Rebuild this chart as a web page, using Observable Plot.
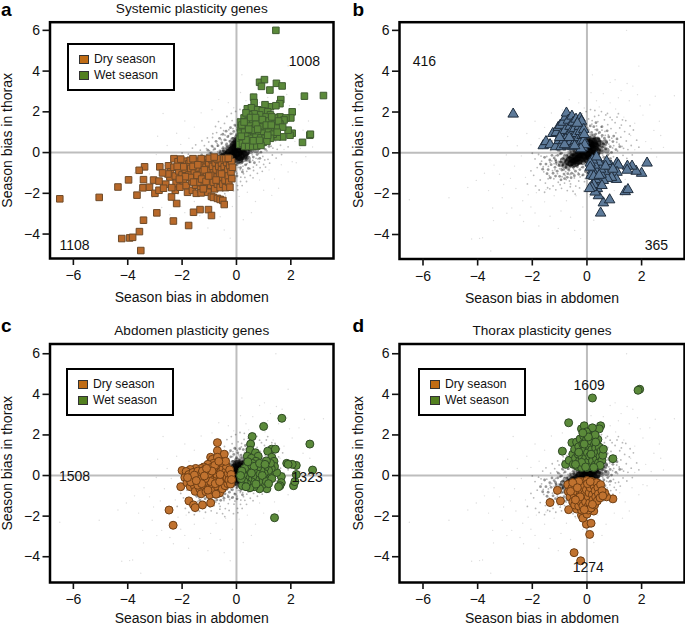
<!DOCTYPE html>
<html><head><meta charset="utf-8">
<script src="https://cdn.jsdelivr.net/npm/d3@7"></script>
<script src="https://cdn.jsdelivr.net/npm/@observablehq/plot@0.6"></script>
<style>
html,body{margin:0;padding:0;background:#fff}
#fig{position:relative;width:685px;height:625px;overflow:hidden;font-family:"Liberation Sans",sans-serif;color:#111}
#fig>svg{position:absolute}
.lg{position:absolute;box-sizing:border-box;width:108px;height:48px;border:2.5px solid #000;background:#fff;font-size:12.2px;z-index:3}
.lg i{position:absolute;left:10px;width:10px;height:9px;box-sizing:border-box;border:1px solid #333}
.lg span{position:absolute;left:25px;line-height:15px}
</style></head><body><div id="fig"></div>
<script>
const xTicks=[-6,-4,-2,0,2];
const yTicks=[-4,-2,0,2,4,6];
const titles=["Systemic plasticity genes","","Abdomen plasticity genes","Thorax plasticity genes"];
const letters=["a","b","c","d"];
const xLabel="Season bias in abdomen";
const yLabel="Season bias in thorax";
const seasons=["Dry season","Wet season"];
const aCounts=[["1008",2.5,4.47],["1108",-5.96,-4.57]];
const bCounts=[["416",-5.95,4.47],["365",2.54,-4.53]];
const cCounts=[["1508",-5.96,-0.03],["1323",2.6,-0.08]];
const dCounts=[["1609",0.08,4.43],["1274",0.05,-4.55]];

const cloudFar=[[-6.5,-2.3],[-5.05,-2.2],[-4.36,-1.7],[-4.22,-4.22],[-3.93,-4.19],[-3.82,-4.16],[-3.52,-4.81],[-3.42,-3.32],[-2.93,-2.96],[-2.32,-3.36],[-1.76,-3.58],[1.45,6.0],[1.9,4.25],[0.2,3.82],[3.2,2.8],[2.5,2.77],[1.03,3.58],[1.47,3.4],[0.85,3.45],[1.68,3.27],[2.7,0.85],[2.65,1.55],[2.8,0.27],[-2.7,1.92],[-2.9,0.8],[-3.4,-0.6],[-3.75,-1.0],[-3.05,-1.55],[-3.6,-1.85],[-3.1,-2.2],[-2.75,-2.7],[-3.45,-2.7],[-2.45,-3.05],[-2.05,-2.65],[-1.35,-3.1],[-1.05,-3.7],[-0.45,-3.8],[-0.23,-4.2],[0.25,-3.3],[0.55,-2.95],[1.3,-2.1],[1.55,-1.75],[2.2,-0.5],[2.55,-0.2],[2.45,1.1],[2.05,1.85],[2.3,2.35],[1.85,2.85],[1.25,3.05],[0.6,2.9],[0.35,2.55],[-0.3,2.45],[-0.65,2.6],[-1.3,1.95],[-1.9,1.55],[-2.2,0.95],[-2.55,0.35],[-2.95,-0.1],[-4.05,-1.35],[-3.2,-1.05],[-2.6,-1.75],[-2.35,-2.35],[-1.9,-2.95],[-1.55,-2.4],[-0.95,-2.85],[-0.6,-3.15],[-0.15,-2.65],[0.7,-2.4],[1.0,-1.85],[1.4,-1.3],[1.9,-0.95],[2.05,-0.45],[2.15,0.55],[2.35,0.2],[1.75,1.45],[1.95,2.3],[1.55,2.55],[1.15,2.7],[0.85,2.45],[0.15,2.95],[-0.1,2.2],[-0.9,2.1],[-1.55,1.25],[-1.75,0.7],[-2.05,0.4],[-2.4,-0.15],[-2.65,-0.65],[-2.25,-1.2],[-2.8,-1.25],[-1.85,-1.95],[-2.15,-2.05],[-1.2,-2.1],[-1.5,-1.8],[-0.75,-2.35],[-0.4,-2.1],[0.1,-2.15],[0.4,-1.95],[0.85,-1.35],[1.2,-0.85],[1.65,-0.6],[1.75,0.15],[1.6,0.85],[1.35,1.75],[1.05,2.15],[0.45,2.25]];
const cloudHalo=[[-1.95,-1.1],[-1.82,-0.72],[-1.71,-1.33],[-1.66,-0.41],[-1.58,-0.93],[-1.52,-1.48],[-1.47,-0.18],[-1.41,-0.66],[-1.38,-1.12],[-1.33,0.12],[-1.29,-0.39],[-1.26,-0.87],[-1.21,-1.27],[-1.18,0.34],[-1.15,-0.14],[-1.12,-0.58],[-1.08,-1.02],[-1.05,-1.44],[-1.02,0.52],[-0.99,0.08],[-0.96,-0.31],[-0.94,-0.76],[-0.91,-1.17],[-0.88,0.74],[-0.86,0.27],[-0.83,-0.09],[-0.81,-0.49],[-0.78,-0.92],[-0.76,-1.31],[-0.73,0.98],[-0.71,0.44],[-0.69,0.05],[-0.67,-0.24],[-0.65,-0.63],[-0.62,-1.06],[-0.6,-1.52],[-0.58,1.21],[-0.56,0.63],[-0.54,0.19],[-0.52,-0.13],[-0.5,-0.44],[-0.48,-0.81],[-0.46,-1.23],[-0.44,1.43],[-0.42,0.85],[-0.4,0.36],[-0.38,0.07],[-0.36,-0.27],[-0.34,-0.58],[-0.32,-0.97],[-0.3,-1.38],[-0.28,1.12],[-0.26,0.58],[-0.24,0.24],[-0.22,-0.17],[-0.2,-0.71],[-0.18,-1.11],[-0.16,1.57],[-0.14,0.93],[-0.12,0.49],[-0.1,-0.39],[-0.08,-0.88],[-0.06,-1.26],[-0.04,1.3],[-0.02,0.76],[0,-0.62],[0.02,-1.01],[0.04,-1.62],[0.06,1.66],[0.08,1.02],[0.1,0.66],[0.12,-0.51],[0.14,-0.83],[0.16,-1.21],[0.18,1.41],[0.2,0.87],[0.22,-0.43],[0.24,-0.67],[0.26,-1.04],[0.28,1.78],[0.3,1.14],[0.32,0.71],[0.34,-0.35],[0.36,-0.59],[0.38,-0.92],[0.4,1.53],[0.42,0.95],[0.44,0.57],[0.46,-0.21],[0.48,-0.48],[0.5,-0.79],[0.52,1.27],[0.54,0.78],[0.56,0.32],[0.58,-0.11],[0.6,-0.38],[0.62,-0.71],[0.64,1.62],[0.66,1.05],[0.68,0.61],[0.7,0.17],[0.72,-0.28],[0.74,-0.61],[0.76,1.38],[0.78,0.88],[0.8,0.43],[0.82,-0.04],[0.84,-0.46],[0.88,1.19],[0.91,0.72],[0.94,0.24],[0.97,-0.19],[1.0,-0.58],[1.03,1.48],[1.06,0.98],[1.09,0.52],[1.12,0.09],[1.16,-0.33],[1.2,1.22],[1.24,0.77],[1.28,0.31],[1.32,-0.12],[1.38,1.04],[1.44,0.58],[1.5,0.16],[-1.9,-0.3],[-1.77,-0.08],[-1.62,0.22],[-1.55,-1.93],[-1.44,-1.71],[-1.35,-0.47],[-1.24,-1.62],[-1.17,-0.83],[-1.1,0.19],[-1.03,-0.42],[-0.98,-1.56],[-0.9,-0.62],[-0.85,0.13],[-0.79,-1.12],[-0.74,-0.35],[-0.7,0.32],[-0.64,-1.38],[-0.59,-0.55],[-0.55,0.41],[-0.49,-1.02],[-0.45,0.1],[-0.41,-1.63],[-0.37,0.61],[-0.33,-0.41],[-0.29,0.83],[-0.25,-1.18],[-0.21,0.39],[-0.17,-0.55],[-0.13,1.18],[-0.09,-1.41],[-0.05,0.64],[0.03,1.24],[0.07,-0.73],[0.11,0.92],[0.15,-1.42],[0.19,1.58],[0.23,-0.84],[0.27,0.81],[0.31,-1.22],[0.35,1.32],[0.39,-0.54],[0.43,1.84],[0.47,0.68],[0.51,-1.12],[0.55,1.11],[0.59,0.47],[0.63,-0.88],[0.67,0.86],[0.71,0.37],[0.75,1.93],[0.79,-0.31],[0.83,0.62],[0.87,-0.74],[0.92,1.62],[0.98,0.35],[1.04,-0.36],[1.1,1.75],[1.18,0.42],[1.26,1.36],[1.34,0.22],[1.42,1.58],[1.55,0.92],[1.62,0.36],[1.7,1.12],[-2.18,-1.52],[-2.05,-0.88],[-2.0,-0.02],[-1.88,-1.62],[-1.75,-1.82],[-1.68,-0.16],[-1.6,-0.68],[-1.5,0.38],[-1.42,-1.27],[-1.36,-1.76],[-1.27,0.58],[-1.2,-0.53],[-1.14,-1.81],[-1.07,0.72],[-1.0,-0.78],[-0.93,-1.74],[-0.87,0.93],[-0.82,-1.48],[-0.77,1.28],[-0.72,-1.85],[-0.66,1.52],[-0.61,-1.66],[-0.57,0.88],[-0.51,-1.88],[-0.47,1.08],[-0.43,-2.02],[-0.35,1.77],[-0.27,-1.72],[-0.19,1.92],[-0.11,-1.88],[-0.03,2.02],[0.05,-1.83],[0.13,2.12],[0.21,-1.62],[0.29,2.08],[0.37,-1.42],[0.53,2.02],[0.61,-1.24],[0.69,1.86],[0.77,-1.02],[0.85,1.74],[0.95,-0.92],[1.07,-0.71],[1.15,1.92],[1.22,-0.52],[1.3,1.62],[1.46,-0.27],[1.58,1.32],[1.66,-0.1],[1.82,0.62],[1.9,0.28]];
const cloudInner=[[-1.42,-0.82],[-1.36,-0.35],[-1.31,-0.58],[-1.24,-1.0],[-1.2,-0.25],[-1.17,-0.71],[-1.13,-0.42],[-1.09,-0.9],[-1.07,-0.12],[-1.03,-0.62],[-1.0,-1.15],[-0.97,-0.44],[-0.93,-0.02],[-0.92,-0.84],[-0.89,-0.28],[-0.87,-0.6],[-0.84,-1.04],[-0.8,0.18],[-0.8,-0.4],[-0.77,-0.72],[-0.74,-0.12],[-0.72,-1.2],[-0.69,-0.52],[-0.68,0.34],[-0.66,-0.85],[-0.63,-0.22],[-0.61,0.08],[-0.6,-0.66],[-0.57,-0.38],[-0.56,-1.0],[-0.54,0.48],[-0.52,-0.08],[-0.5,-0.72],[-0.49,0.24],[-0.47,-0.3],[-0.45,-0.52],[-0.43,0.62],[-0.42,-0.9],[-0.39,0.02],[-0.38,-0.18],[-0.36,0.42],[-0.35,-0.68],[-0.32,0.78],[-0.31,-0.1],[-0.29,-0.36],[-0.28,0.2],[-0.26,-0.82],[-0.24,0.54],[-0.23,-0.52],[-0.21,0.92],[-0.2,0.06],[-0.18,-0.28],[-0.16,0.36],[-0.15,-0.7],[-0.13,0.7],[-0.12,0.0],[-0.1,1.04],[-0.09,-0.46],[-0.07,0.22],[-0.05,-0.92],[-0.04,0.54],[-0.02,-0.16],[0.0,0.88],[0.01,0.3],[0.03,-0.58],[0.05,1.12],[0.06,0.02],[0.08,0.44],[0.1,-0.34],[0.11,0.76],[0.13,0.18],[0.15,-0.74],[0.17,1.0],[0.18,-0.06],[0.2,0.5],[0.21,-0.48],[0.23,0.28],[0.25,1.28],[0.26,0.72],[0.28,-0.22],[0.3,0.08],[0.32,0.92],[0.33,-0.6],[0.35,0.44],[0.37,1.12],[0.38,0.2],[0.4,-0.28],[0.42,0.7],[0.44,-0.06],[0.46,1.0],[0.48,0.34],[0.5,-0.46],[0.52,0.56],[0.54,0.1],[0.56,0.86],[0.6,0.42],[0.62,-0.22],[0.64,0.72],[0.68,0.2],[0.72,0.52],[0.76,-0.1],[0.8,0.78],[0.85,0.3],[0.9,0.02],[0.95,0.55],[-1.5,-0.55],[-1.46,-1.02],[-1.55,-0.22],[-1.62,-0.8],[-1.7,-0.55],[-1.34,-1.22],[-1.28,-0.12],[-1.15,-1.14],[-1.05,0.12],[-0.95,-1.32],[-0.9,0.32],[-0.82,-1.26],[-0.75,0.55],[-0.7,-1.02],[-0.62,0.7],[-0.58,-1.22],[-0.5,0.9],[-0.46,-1.12],[-0.38,1.05],[-0.3,-1.05],[-0.22,1.22],[-0.14,-1.08],[-0.06,1.35],[0.02,-1.15],[0.12,1.32],[0.22,-0.95],[0.33,1.48],[0.44,-0.78],[0.55,1.28],[0.66,-0.5],[0.74,1.08],[0.86,-0.28],[0.98,0.82],[1.06,0.16],[1.1,0.68],[1.2,0.3],[-1.15,-0.34],[-0.98,-0.05],[-1.12,-0.5],[-0.85,-0.82],[-0.65,-0.45],[-0.55,-0.6],[-0.48,0.1],[-0.4,-0.42],[-0.33,0.28],[-0.27,-0.22],[-0.17,0.14],[-0.11,0.38],[-0.03,0.08],[0.07,0.62],[0.16,0.34],[0.27,0.5],[0.36,-0.12],[0.47,0.14],[0.57,0.28]];
const cloudDense=[[-0.95,-0.55],[-0.88,-0.38],[-0.82,-0.62],[-0.78,-0.21],[-0.73,-0.47],[-0.7,-0.68],[-0.66,-0.3],[-0.62,-0.12],[-0.6,-0.52],[-0.56,-0.35],[-0.53,-0.02],[-0.5,-0.6],[-0.48,-0.22],[-0.45,-0.42],[-0.42,0.1],[-0.4,-0.15],[-0.37,-0.5],[-0.35,-0.3],[-0.32,0.02],[-0.3,0.24],[-0.28,-0.42],[-0.26,-0.12],[-0.23,0.12],[-0.2,-0.28],[-0.18,0.34],[-0.16,-0.02],[-0.14,-0.46],[-0.12,0.2],[-0.1,-0.18],[-0.08,0.45],[-0.06,0.06],[-0.03,-0.32],[0,0.26],[0.02,-0.1],[0.05,0.55],[0.07,0.14],[0.1,-0.25],[0.12,0.38],[0.15,0.02],[0.18,0.62],[0.2,0.24],[0.23,-0.16],[0.26,0.48],[0.28,0.1],[0.32,0.36],[0.35,-0.08],[0.38,0.66],[0.42,0.22],[0.46,0.48],[0.52,0.08],[0.58,0.36],[0.66,0.52],[0.72,0.12],[0.3,-0.32],[0.42,-0.3],[0.14,-0.44],[-0.12,0.62],[0.02,0.74],[0.22,0.8]];
const cloudCore=[[-0.62,-0.42],[-0.5,-0.28],[-0.44,-0.46],[-0.36,-0.18],[-0.3,-0.34],[-0.24,-0.04],[-0.18,-0.22],[-0.12,0.12],[-0.06,-0.1],[0,0.24],[0.05,0.04],[0.1,0.4],[0.16,0.2],[0.22,0.48],[0.28,0.3],[0.34,0.52],[0.12,-0.18],[0.24,-0.12],[0.32,0.06],[-0.06,0.36],[0.04,0.52],[0.06,-0.3]];

const aDry=[[-6.5,-2.27],[-5.05,-2.2],[-4.36,-1.69],[-3.97,-1.34],[-4.22,-4.22],[-3.93,-4.19],[-3.82,-4.16],[-3.57,-3.88],[-3.52,-4.81],[-3.42,-3.32],[-2.93,-2.96],[-2.32,-3.36],[-1.76,-3.58],[-1.58,-2.93],[-1.34,-2.8],[-1.03,-2.8],[-0.92,-3.09],[-2.2,-2.5],[-2.39,-2.18],[-3.66,-2.09],[-3.38,-0.7],[-3.58,-0.87],[-3.42,-1.33],[-3.44,-1.73],[-3.2,-1.7],[-3.05,-1.35],[-3.0,-2.0],[-2.85,-1.4],[-2.82,-0.7],[-2.85,-1.85],[-2.6,-1.55],[-2.68,-1.75],[-2.5,-0.65],[-2.45,-1.2],[-2.42,-0.95],[-2.3,-0.3],[-2.3,-0.72],[-2.25,-1.15],[-2.22,-1.5],[-2.25,-1.85],[-2.15,-0.45],[-2.12,-0.9],[-2.08,-1.7],[-2.0,-0.6],[-2.0,-1.1],[-1.95,-1.38],[-1.9,-0.42],[-1.88,-0.82],[-1.85,-1.62],[-1.8,-1.95],[-1.75,-0.55],[-1.75,-1.1],[-1.7,-0.38],[-1.68,-0.78],[-1.65,-1.4],[-1.62,-1.85],[-1.55,-0.55],[-1.55,-1.0],[-1.52,-1.25],[-1.5,-1.6],[-1.48,-2.0],[-1.42,-0.42],[-1.4,-0.75],[-1.38,-1.1],[-1.35,-1.45],[-1.32,-1.8],[-1.3,-1.98],[-1.25,-0.55],[-1.25,-0.95],[-1.2,-1.25],[-1.18,-1.55],[-1.15,-0.35],[-1.12,-0.72],[-1.1,-1.05],[-1.08,-1.7],[-1.05,-1.95],[-1.02,-0.5],[-1.0,-0.88],[-0.98,-1.3],[-0.95,-1.6],[-0.92,-2.15],[-0.9,-0.35],[-0.88,-0.68],[-0.85,-1.0],[-0.85,-1.45],[-0.85,-2.2],[-0.8,-1.78],[-0.78,-0.5],[-0.75,-0.85],[-0.72,-1.2],[-0.7,-1.55],[-0.7,-2.25],[-0.68,-0.35],[-0.65,-0.68],[-0.62,-1.02],[-0.6,-1.4],[-0.6,-1.72],[-0.6,-2.3],[-0.55,-0.5],[-0.55,-0.85],[-0.52,-1.2],[-0.5,-2.35],[-0.5,-1.55],[-0.48,-0.3],[-0.45,-2.55],[-0.45,-0.7],[-0.42,-1.0],[-0.42,-1.35],[-0.4,-1.72],[-0.36,-0.48],[-0.32,-0.85],[-0.3,-1.15],[-0.28,-1.45],[-0.26,-0.32],[-0.25,-0.65],[-0.24,-1.7],[-0.2,-0.95],[-0.18,-0.45],[-0.17,-1.28],[-0.15,-0.72],[-2.38,-1.72],[-2.52,-1.05],[-2.72,-1.0],[-2.05,-0.32],[-1.6,-0.3],[-1.3,-0.3],[-1.0,-0.28],[-0.72,-0.3],[-0.4,-0.3],[-1.45,-1.12],[-1.28,-1.3],[-1.12,-1.42],[-0.95,-1.12],[-1.7,-1.22],[-1.88,-1.18],[-2.1,-1.3],[-1.6,-0.68],[-1.42,-0.6],[-1.18,-0.85],[-0.82,-0.22],[-0.55,-1.05],[-0.75,-1.35],[-1.02,-1.15],[-1.22,-1.78],[-1.58,-1.45],[-1.95,-0.7],[-2.18,-0.68],[-0.3,-0.28]];
const aWet=[[1.45,6.0],[3.2,2.8],[2.5,2.77],[0.85,3.45],[1.03,3.58],[1.47,3.4],[1.68,3.27],[0.92,3.25],[1.23,3.07],[0.63,2.72],[1.63,2.6],[1.6,2.4],[2.05,2.0],[2.0,1.7],[2.7,0.85],[2.72,0.9],[2.43,0.5],[2.05,0.95],[1.97,0.85],[1.9,1.1],[1.7,0.77],[1.5,0.77],[1.25,2.25],[1.05,2.35],[0.65,2.45],[0.4,2.15],[0.55,2.2],[0.78,2.1],[0.95,2.05],[1.15,2.0],[1.45,2.3],[1.6,1.75],[1.82,1.7],[1.75,1.6],[1.4,1.7],[1.25,1.85],[1.05,1.75],[0.85,1.85],[0.65,1.9],[0.45,1.85],[0.28,1.7],[0.35,1.95],[0.15,1.5],[0.42,1.55],[0.6,1.6],[0.8,1.55],[1.0,1.45],[1.2,1.55],[1.4,1.4],[1.6,1.4],[0.15,1.2],[0.32,1.25],[0.5,1.3],[0.68,1.2],[0.88,1.25],[1.1,1.2],[1.3,1.15],[1.5,1.2],[0.15,0.95],[0.3,1.0],[0.48,1.0],[0.65,0.95],[0.82,1.0],[1.0,0.95],[1.18,1.0],[1.35,0.9],[0.12,0.65],[0.25,0.72],[0.4,0.8],[0.55,0.7],[0.72,0.75],[0.9,0.72],[1.05,0.7],[1.25,0.7],[0.12,0.4],[0.22,0.45],[0.38,0.5],[0.52,0.42],[0.68,0.48],[0.82,0.45],[0.98,0.5],[1.12,0.55],[0.3,0.3],[0.45,0.3],[0.6,0.3],[0.75,0.32],[0.9,0.35],[0.2,1.35],[0.55,1.1],[0.72,1.4],[0.95,1.62],[0.35,0.62],[0.62,0.58],[0.85,0.6],[1.15,0.85],[0.52,1.72],[0.7,1.72],[1.1,1.35],[0.28,1.5],[0.45,1.15],[0.78,1.15],[1.28,1.35],[0.18,0.8],[1.3,1.75],[1.55,1.55],[1.7,1.25],[1.5,1.0]];
const bUp=[[-2.7,1.9],[-1.6,0.35],[-1.5,0.55],[-1.35,0.4],[-1.25,0.95],[-1.15,0.3],[-1.12,1.0],[-1.05,1.25],[-1.02,0.6],[-0.95,0.3],[-0.95,0.9],[-0.98,1.35],[-0.88,1.5],[-0.85,0.62],[-0.8,1.1],[-0.78,1.75],[-0.75,1.95],[-0.72,0.35],[-0.7,0.85],[-0.68,1.6],[-0.62,1.3],[-0.6,0.55],[-0.58,1.05],[-0.55,1.8],[-0.52,0.3],[-0.5,0.8],[-0.5,1.5],[-0.45,1.2],[-0.42,0.6],[-0.4,1.65],[-0.38,0.95],[-0.32,0.35],[-0.3,0.75],[-0.28,1.3],[-0.25,1.7],[-0.25,1.05],[-0.22,0.55],[-0.2,1.55],[-0.18,0.85],[-0.15,0.28],[-0.12,0.6],[-0.12,1.15],[-0.1,0.9],[-0.08,0.4],[-0.22,0.2],[-0.45,0.35],[-0.82,0.4],[-1.0,0.75],[-0.65,0.75],[-0.35,1.45]];
const bDown=[[0.5,-2.95],[0.6,-2.45],[0.83,-2.3],[1.4,-1.9],[1.5,-1.8],[2.2,-0.5],[2.0,-1.0],[1.8,-0.9],[1.65,-0.65],[1.48,-0.65],[1.47,-0.85],[1.1,-0.5],[1.15,-0.6],[1.1,-0.95],[1.08,-1.3],[0.9,-1.2],[0.88,-0.65],[0.75,-1.25],[0.72,-0.42],[0.65,-0.9],[0.6,-1.35],[0.55,-0.65],[0.52,-1.05],[0.5,-0.8],[0.45,-1.45],[0.42,-0.45],[0.42,-2.1],[0.38,-1.75],[0.35,-0.9],[0.32,-1.3],[0.3,-1.92],[0.28,-0.6],[0.25,-1.55],[0.2,-0.35],[0.2,-0.85],[0.18,-1.7],[0.15,-1.1],[0.12,-0.5],[0.12,-0.7],[0.1,-1.75],[0.25,-1.15],[0.45,-1.1],[0.68,-0.65],[0.95,-0.8],[0.35,-0.2],[0.55,-1.6]];
const cDry=[[-2.48,-1.7],[-2.33,-2.45],[-1.75,-1.25],[-1.58,-1.45],[-1.52,-1.58],[-1.25,-1.45],[-0.95,-1.35],[-2.05,-0.55],[-2.0,0.25],[-0.7,1.62],[-0.7,1.22],[-0.45,1.05],[-0.95,0.9],[-0.88,0.8],[-0.7,0.9],[-0.6,0.6],[-0.85,0.6],[-1.05,0.55],[-1.2,0.42],[-1.3,0.35],[-1.5,0.35],[-1.7,0.3],[-1.85,0.2],[-1.9,-0.1],[-1.82,-0.35],[-1.75,0.05],[-1.7,-0.55],[-1.62,-0.2],[-1.6,0.15],[-1.55,-0.5],[-1.52,-0.78],[-1.45,-0.05],[-1.42,0.22],[-1.4,-0.35],[-1.35,-0.65],[-1.3,-0.9],[-1.28,0.1],[-1.22,-0.2],[-1.2,-0.5],[-1.15,0.3],[-1.12,-0.8],[-1.08,-0.02],[-1.05,-0.35],[-1.02,0.22],[-1.0,-0.62],[-0.98,-0.95],[-0.92,0.4],[-0.9,-0.15],[-0.88,-0.48],[-0.85,0.15],[-0.82,-0.75],[-0.78,0.3],[-0.75,-0.25],[-0.72,0.05],[-0.7,-0.55],[-0.65,0.42],[-0.62,-0.85],[-0.6,-0.1],[-0.58,0.18],[-0.55,-0.4],[-0.52,-0.65],[-0.5,0.32],[-0.48,0.02],[-0.45,-0.25],[-0.42,-0.5],[-0.4,0.18],[-0.38,0.48],[-0.35,-0.12],[-0.32,-0.4],[-0.3,0.1],[-0.28,-0.22],[-0.25,0.28],[-0.22,-0.42],[-0.2,0.05],[-0.18,-0.2],[-0.95,-0.3],[-1.15,-0.15],[-1.35,-0.2],[-1.55,0.02],[-1.68,-0.32],[-1.25,0.22],[-1.05,-0.72],[-0.8,0.5],[-0.55,0.65],[-0.4,0.7],[-0.65,0.7],[-0.78,-0.4],[-1.42,-0.48],[-1.0,0.1],[-0.62,-0.3],[-1.28,-0.4],[-1.48,-0.25],[-1.8,-0.1],[-0.9,0.22],[-1.1,0.35],[-0.75,-0.92],[-0.6,0.05],[-1.18,-0.02]];
const cWet=[[1.67,2.82],[1.0,2.42],[0.58,1.92],[0.52,1.55],[2.7,1.55],[1.4,-2.08],[2.8,0.27],[2.2,0.5],[2.05,0.55],[1.85,0.6],[1.9,0.55],[2.1,-0.5],[2.15,-0.3],[2.2,0.05],[1.3,1.3],[1.43,1.3],[1.15,1.2],[0.5,1.25],[0.7,1.12],[0.8,0.95],[1.3,0.9],[1.38,0.7],[0.4,0.95],[0.55,0.85],[1.65,-0.05],[1.65,-0.35],[1.6,-0.5],[1.55,-0.55],[1.48,0.15],[1.4,0.45],[1.28,0.35],[1.25,0.6],[1.22,-0.0],[1.18,0.25],[1.12,-0.65],[1.1,0.72],[1.05,0.4],[1.02,0.1],[1.0,-0.2],[0.95,-0.45],[0.92,0.55],[0.9,0.25],[0.85,-0.1],[0.85,-0.65],[0.82,-0.3],[0.78,0.4],[0.75,0.08],[0.72,0.7],[0.7,-0.22],[0.65,-0.55],[0.62,0.25],[0.6,-0.05],[0.58,0.6],[0.55,-0.3],[0.5,0.3],[0.5,-0.6],[0.45,0.05],[0.42,-0.18],[0.4,0.5],[0.38,-0.4],[0.35,0.22],[0.32,-0.08],[0.3,0.35],[0.28,-0.3],[0.25,0.05],[0.22,-0.5],[0.2,0.22],[0.18,-0.15],[0.15,0.0],[0.35,-0.55],[0.65,0.45],[0.95,0.0],[1.1,-0.3],[1.3,-0.15],[0.85,0.6],[0.55,0.12],[0.72,-0.42],[0.42,0.68],[1.05,0.55],[1.18,-0.4]];
const dDry=[[-1.35,-1.33],[-1.08,-0.73],[-0.97,-1.25],[-0.67,-1.68],[0.95,-1.15],[0.72,-1.05],[0.65,-0.85],[-0.47,-3.8],[-0.23,-4.2],[0.1,-2.9],[-0.02,-2.4],[0.15,-2.35],[-0.2,-1.95],[-0.15,-2.1],[-0.38,-1.65],[0.0,-1.9],[0.25,-1.75],[0.05,-1.7],[-0.2,-1.7],[-0.7,-0.45],[-0.68,-0.8],[-0.62,-1.05],[-0.55,-0.62],[-0.52,-1.3],[-0.48,-0.95],[-0.45,-1.45],[-0.4,-0.4],[-0.38,-0.78],[-0.35,-1.15],[-0.3,-1.5],[-0.28,-0.55],[-0.25,-0.95],[-0.22,-1.3],[-0.2,-0.3],[-0.18,-0.75],[-0.15,-1.5],[-0.12,-1.1],[-0.1,-0.5],[-0.08,-0.9],[-0.05,-1.3],[-0.02,-0.7],[0,-0.25],[0.02,-1.55],[0.05,-0.45],[0.05,-1.05],[0.08,-0.85],[0.1,-1.35],[0.12,-0.6],[0.15,-1.6],[0.18,-0.3],[0.2,-0.95],[0.22,-1.2],[0.25,-0.5],[0.28,-1.45],[0.3,-0.75],[0.32,-1.05],[0.35,-0.35],[0.38,-1.25],[0.4,-0.6],[0.42,-0.9],[0.48,-1.1],[0.5,-0.45],[0.55,-0.75],[0.58,-1.0],[-0.3,-0.3],[-0.52,-0.35],[-0.6,-0.78],[0.02,-0.4],[-0.25,-1.05],[0.2,-1.42],[-0.42,-1.2],[-0.1,-1.68],[0.12,-0.3],[-0.35,-0.6]];
const dWet=[[1.93,4.25],[1.87,4.2],[0.2,3.82],[-0.67,2.6],[-0.9,1.2],[-0.78,0.55],[0.95,0.83],[0.5,2.45],[0.45,2.3],[0.2,2.35],[-0.2,2.3],[-0.1,2.45],[-0.65,0.75],[-0.55,1.62],[-0.52,1.05],[-0.5,0.55],[-0.45,1.3],[-0.42,0.85],[-0.38,1.65],[-0.35,0.45],[-0.32,1.05],[-0.3,1.42],[-0.28,0.7],[-0.25,1.8],[-0.22,1.15],[-0.2,0.4],[-0.18,0.92],[-0.15,1.55],[-0.12,1.95],[-0.1,0.62],[-0.08,1.28],[-0.05,0.85],[-0.02,1.75],[0,0.4],[0.02,1.12],[0.05,0.68],[0.05,1.48],[0.08,2.0],[0.1,0.95],[0.12,1.72],[0.15,0.45],[0.18,1.28],[0.2,0.72],[0.22,1.95],[0.25,1.05],[0.28,1.55],[0.3,0.52],[0.32,1.35],[0.35,0.82],[0.38,1.1],[0.4,1.78],[0.42,0.62],[0.45,1.4],[0.48,0.95],[0.52,1.2],[0.55,0.75],[0.58,1.0],[0.6,1.3],[0.3,2.0],[-0.02,2.15],[-0.3,1.15],[-0.1,1.55],[0.15,1.05],[-0.2,0.65],[0.32,1.65],[0.05,1.9],[-0.15,2.1],[-0.42,0.55],[0.48,0.5],[-0.05,0.42],[0.25,0.4]];

const dry="#b8692a", wet="#5b8a3a", blue="#5d7a99";
const spec=[
 {left:0,top:0,w:342,h:310,ml:49.5,mr:9,mt:21.7,mb:52,yd:[-5.2,6.4],sets:[[aDry,dry,"#6e4a28"],[aWet,wet,"#3f5c30"]],sym:"square",r:3.7,counts:aCounts,legend:[67,43]},
 {left:345,top:0,w:340,h:310,ml:54,mr:1,mt:21.7,mb:51.5,yd:[-5.2,6.4],sets:[[bUp,blue,"#1f2d3d"],[bDown,blue,"#1f2d3d"]],sym:"triangle",r:3.9,counts:bCounts},
 {left:0,top:310,w:342,h:315,ml:49.5,mr:9,mt:33.5,mb:43,yd:[-5.27,6.48],sets:[[cDry,"#c0722f","#6e3e14"],[cWet,wet,"#2f4a25"]],sym:"circle",r:4,counts:cCounts,legend:[66,368]},
 {left:345,top:310,w:340,h:315,ml:54,mr:1,mt:33.5,mb:43,yd:[-5.27,6.48],sets:[[dDry,"#c0722f","#6e3e14"],[dWet,wet,"#2f4a25"]],sym:"circle",r:4,counts:dCounts,legend:[418,368]}
];
const fig=document.getElementById("fig");
const X=d=>d[0],Y=d=>d[1];
spec.forEach((s,i)=>{
 const marks=[
  Plot.ruleX([0],{stroke:"#bdbdbd",strokeWidth:2}),
  Plot.ruleY([0],{stroke:"#bdbdbd",strokeWidth:2}),
  Plot.dot(cloudFar,{x:X,y:Y,r:0.7,fill:"#000",fillOpacity:0.14}),
  Plot.dot(cloudHalo,{x:X,y:Y,r:0.9,fill:"#000",fillOpacity:0.28}),
  Plot.dot(cloudInner,{x:X,y:Y,r:1.4,fill:"#000",fillOpacity:0.4}),
  Plot.dot(cloudDense,{x:X,y:Y,r:3,fill:"#000",fillOpacity:0.38}),
  Plot.dot(cloudCore,{x:X,y:Y,r:5,fill:"#000",fillOpacity:0.6}),
  ...s.sets.map(([data,fill,stroke])=>Plot.dot(data,{x:X,y:Y,symbol:s.sym,r:s.r,fill,stroke,strokeWidth:1})),
  Plot.text(s.counts,{x:d=>d[1],y:d=>d[2],text:d=>d[0],fontSize:14,fill:"#111"}),
  Plot.frame({stroke:"#000",strokeWidth:2.5}),
  Plot.axisX({ticks:xTicks,tickSize:7,tickPadding:5,strokeWidth:1.6,fontSize:14,fill:"#111",label:xLabel,labelAnchor:"center",labelArrow:"none",labelOffset:i<2?43.5:40.5,fontWeight:"normal"}),
  Plot.axisY({ticks:yTicks,tickSize:7,tickPadding:3,strokeWidth:1.6,fontSize:14,fill:"#111",label:yLabel,labelAnchor:"center",labelArrow:"none",labelOffset:i%2?46:48}),
  Plot.text([letters[i]],{frameAnchor:"top-left",dx:i%2?-47:-49,dy:i<2?-19.5:-26,text:d=>d,fontSize:19,fontWeight:"bold",fill:"#000",textAnchor:"start"})
 ];
 if(titles[i]) marks.push(Plot.text([titles[i]],{frameAnchor:"top",dy:-19,text:d=>d,fontSize:13.6,fill:"#111"}));
 const svg=Plot.plot({width:s.w,height:s.h,marginLeft:s.ml,marginRight:s.mr,marginTop:s.mt,marginBottom:s.mb,
  style:{fontFamily:"'Liberation Sans',sans-serif",fontSize:"13.7px",background:"transparent",overflow:"visible"},
  x:{domain:[-6.86,3.57]},y:{domain:s.yd},symbol:{type:"identity"},marks});
 svg.style.left=s.left+"px";svg.style.top=s.top+"px";
 fig.appendChild(svg);
 if(s.legend){
  const b=document.createElement("div");b.className="lg";b.style.left=s.legend[0]+"px";b.style.top=s.legend[1]+"px";
  seasons.forEach((t,k)=>{
   const sw=document.createElement("i");sw.style.top=(9.5+16*k)+"px";sw.style.background=k?"#53801f":"#c06c14";b.appendChild(sw);
   const sp=document.createElement("span");sp.textContent=t;sp.style.top=(6.5+16*k)+"px";b.appendChild(sp);
  });
  fig.appendChild(b);
 }
});
</script></body></html>
